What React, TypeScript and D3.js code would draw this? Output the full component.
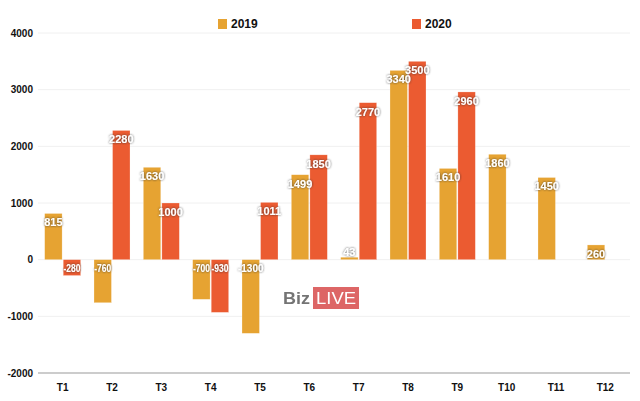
import React from "react";
import * as d3 from "d3";

const months = ["T1", "T2", "T3", "T4", "T5", "T6", "T7", "T8", "T9", "T10", "T11", "T12"];
const seriesNames = ["2019", "2020"];
const values2019: (number | null)[] = [815, -760, 1630, -700, -1300, 1499, 43, 3340, 1610, 1860, 1450, 260];
const values2020: (number | null)[] = [-280, 2280, 1000, -930, 1011, 1850, 2770, 3500, 2960, null, null, null];
const yTicks = [-2000, -1000, 0, 1000, 2000, 3000, 4000];
const colors = ["#E6A332", "#EB5B31"];

const W = 640;
const H = 401;

export default function App() {
  const x = d3.scaleBand<string>().domain(months).range([38, 630]).paddingInner(0.27).paddingOuter(0.135);
  const xs = d3.scaleBand<string>().domain(seriesNames).range([0, x.bandwidth()]).paddingInner(0.06);
  const y = d3.scaleLinear().domain([-2000, 4000]).range([373, 33]);
  const font = "'Liberation Sans', Arial, Helvetica, sans-serif";
  const all = [values2019, values2020];

  return (
    <svg width={W} height={H} style={{ position: "absolute", left: 0, top: 0, background: "#fff" }} fontFamily={font}>
      <defs>
        <filter id="sh" x="-20%" y="-40%" width="140%" height="180%">
          <feDropShadow dx="0" dy="0" stdDeviation="0.9" floodColor="#333" floodOpacity="0.9" />
        </filter>
      </defs>
      {yTicks.map((t) => (
        <g key={t}>
          {t !== -2000 && <line x1={38} x2={630} y1={y(t)} y2={y(t)} stroke="#f0f0f0" strokeWidth={1} />}
          <text x={33} y={y(t)} dy="0.35em" textAnchor="end" fontSize={10} fontWeight="bold" fill="#111">
            {t}
          </text>
        </g>
      ))}
      {/* watermark */}
      <g opacity={0.9}>
        <text x={283} y={304} fontSize={17} fontWeight="bold" fill="#666" textLength={27} lengthAdjust="spacingAndGlyphs">Biz</text>
        <rect x={313} y={287} width={46} height={22} fill="#DA5656" />
        <text x={316} y={304} fontSize={17} fill="#fff" textLength={40} lengthAdjust="spacingAndGlyphs">LIVE</text>
      </g>
      {all.map((vals, si) =>
        vals.map((v, i) =>
          v === null ? null : (
            <rect
              key={`b${si}-${i}`}
              x={(x(months[i]) as number) + (xs(seriesNames[si]) as number)}
              y={y(Math.max(0, v))}
              width={xs.bandwidth()}
              height={Math.abs(y(v) - y(0))}
              fill={colors[si]}
              stroke="#fff"
              strokeOpacity={0.5}
              strokeWidth={0.5}
            />
          )
        )
      )}
      <line x1={38} x2={630} y1={y(-2000)} y2={y(-2000)} stroke="#bbb" strokeWidth={1.5} />
      {all.map((vals, si) =>
        vals.map((v, i) =>
          v === null ? null : (
            <text
              key={`l${si}-${i}`}
              x={(x(months[i]) as number) + (xs(seriesNames[si]) as number) + xs.bandwidth() / 2}
              y={Math.abs(v) < 100 && v > 0 ? y(v) - 5 : y(Math.max(0, v)) + 9}
              dy="0.35em"
              textAnchor="middle"
              fontSize={v < 0 ? 10 : 11}
              fontWeight="bold"
              fill="#fff"
              filter="url(#sh)"
              textLength={v < 0 && String(v).length === 4 ? 17 : undefined}
              lengthAdjust="spacingAndGlyphs"
            >
              {v}
            </text>
          )
        )
      )}
      {months.map((m) => (
        <text key={m} x={(x(m) as number) + x.bandwidth() / 2} y={387} dy="0.35em" textAnchor="middle" fontSize={10} fontWeight="bold" fill="#111">
          {m}
        </text>
      ))}
      {seriesNames.map((s, i) => (
        <g key={s} transform={`translate(${i === 0 ? 218 : 412},19)`}>
          <rect x={0} y={0} width={9} height={10} fill={colors[i]} />
          <text x={13} y={5} dy="0.35em" fontSize={12} fontWeight="bold" fill="#111">
            {s}
          </text>
        </g>
      ))}
    </svg>
  );
}
